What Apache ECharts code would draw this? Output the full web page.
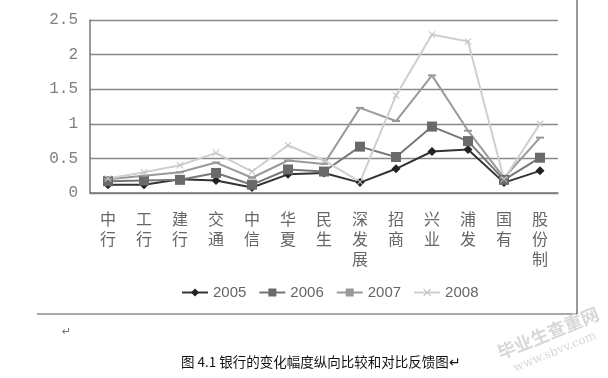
<!DOCTYPE html>
<html><head><meta charset="utf-8">
<script src="https://cdn.jsdelivr.net/npm/echarts@6/dist/echarts.min.js"></script>
<style>html,body{margin:0;padding:0;background:#fff;}#c{width:608px;height:378px;}</style>
</head><body><div id="c"></div>
<script>
const categories = ['中行','工行','建行','交通','中信','华夏','民生','深发展','招商','兴业','浦发','国有','股份制'];
const s2005 = [0.12, 0.12, 0.20, 0.18, 0.08, 0.27, 0.29, 0.15, 0.35, 0.60, 0.63, 0.15, 0.32];
const s2006 = [0.17, 0.18, 0.19, 0.29, 0.12, 0.34, 0.31, 0.67, 0.52, 0.96, 0.75, 0.19, 0.51];
const s2007 = [0.20, 0.25, 0.30, 0.44, 0.22, 0.47, 0.42, 1.23, 1.04, 1.70, 0.90, 0.22, 0.80];
const s2008 = [0.21, 0.30, 0.40, 0.58, 0.31, 0.69, 0.47, 0.16, 1.41, 2.29, 2.19, 0.20, 1.00];
const yTicks = [0, 0.5, 1, 1.5, 2, 2.5];
const caption = '图 4.1 银行的变化幅度纵向比较和对比反馈图↵';

const chart = echarts.init(document.getElementById('c'));
const xShape = 'path://M0,1L1,0L5,4L9,0L10,1L6,5L10,9L9,10L5,6L1,10L0,9L4,5Z';
chart.setOption({
  backgroundColor: '#fff',
  animation: false,
  grid: { left: 90, right: 50, top: 20, bottom: 185 },
  xAxis: {
    type: 'category', data: categories, boundaryGap: true,
    axisLine: { lineStyle: { color: '#777', width: 1.5 } },
    axisTick: { inside: true, length: 7, lineStyle: { color: '#777', width: 1.5 } },
    axisLabel: {
      interval: 0, margin: 16, color: '#666', fontSize: 16, lineHeight: 20,
      fontFamily: 'Noto Sans CJK SC', verticalAlign: 'top',
      formatter: v => v.split('').join('\n')
    }
  },
  yAxis: {
    type: 'value', min: yTicks[0], max: yTicks[yTicks.length - 1], interval: 0.5,
    axisLine: { show: true, lineStyle: { color: '#777', width: 1.5 } },
    axisTick: { show: false },
    splitLine: { lineStyle: { color: '#888', width: 1.3 } },
    axisLabel: { margin: 12, color: '#808080', fontSize: 16, fontFamily: 'Liberation Mono',
      formatter: v => String(v) }
  },
  legend: {
    left: 176, top: 280, itemWidth: 26, itemHeight: 10, itemGap: 12,
    textStyle: { color: '#666', fontSize: 15, fontFamily: 'Liberation Sans' },
    data: ['2005', '2006', '2007', '2008']
  },
  series: [
    { name: '2005', type: 'line', data: s2005, symbol: 'diamond', symbolSize: 9,
      lineStyle: { color: '#333', width: 2 }, itemStyle: { color: '#222' } },
    { name: '2006', type: 'line', data: s2006, symbol: 'rect', symbolSize: 10,
      lineStyle: { color: '#777', width: 2 }, itemStyle: { color: '#6a6a6a' } },
    { name: '2007', type: 'line', data: s2007, symbol: 'rect', symbolSize: [8, 2],
      lineStyle: { color: '#9a9a9a', width: 2 }, itemStyle: { color: '#999' } },
    { name: '2008', type: 'line', data: s2008, symbol: xShape, symbolSize: 7,
      lineStyle: { color: '#cfcfcf', width: 2 }, itemStyle: { color: '#c4c4c4' } }
  ],
  graphic: [
    { type: 'line', shape: { x1: 37, y1: 314, x2: 577, y2: 314 }, style: { stroke: '#555', lineWidth: 1.2 } },
    { type: 'line', shape: { x1: 577, y1: 0, x2: 577, y2: 314 }, style: { stroke: '#555', lineWidth: 1.2 } },
    { type: 'text', left: 62, top: 327, style: { text: '↵', fill: '#777', font: '11px "DejaVu Sans"' } },
    { type: 'text', left: 181, top: 355, style: { text: caption, fill: '#111', font: '13.5px "Noto Sans CJK SC"' } },
    { type: 'text', x: 548, y: 333, rotation: 0.39, style: { text: '毕业生查重网', fill: '#d8d8d8', font: 'bold 18px "Noto Sans CJK SC"', align: 'center', verticalAlign: 'middle' } },
    { type: 'text', x: 555, y: 352, rotation: 0.39, style: { text: 'www.sbvv.com', fill: '#d8d8d8', font: '12px "DejaVu Serif"', align: 'center', verticalAlign: 'middle' } }
  ]
});
</script></body></html>
